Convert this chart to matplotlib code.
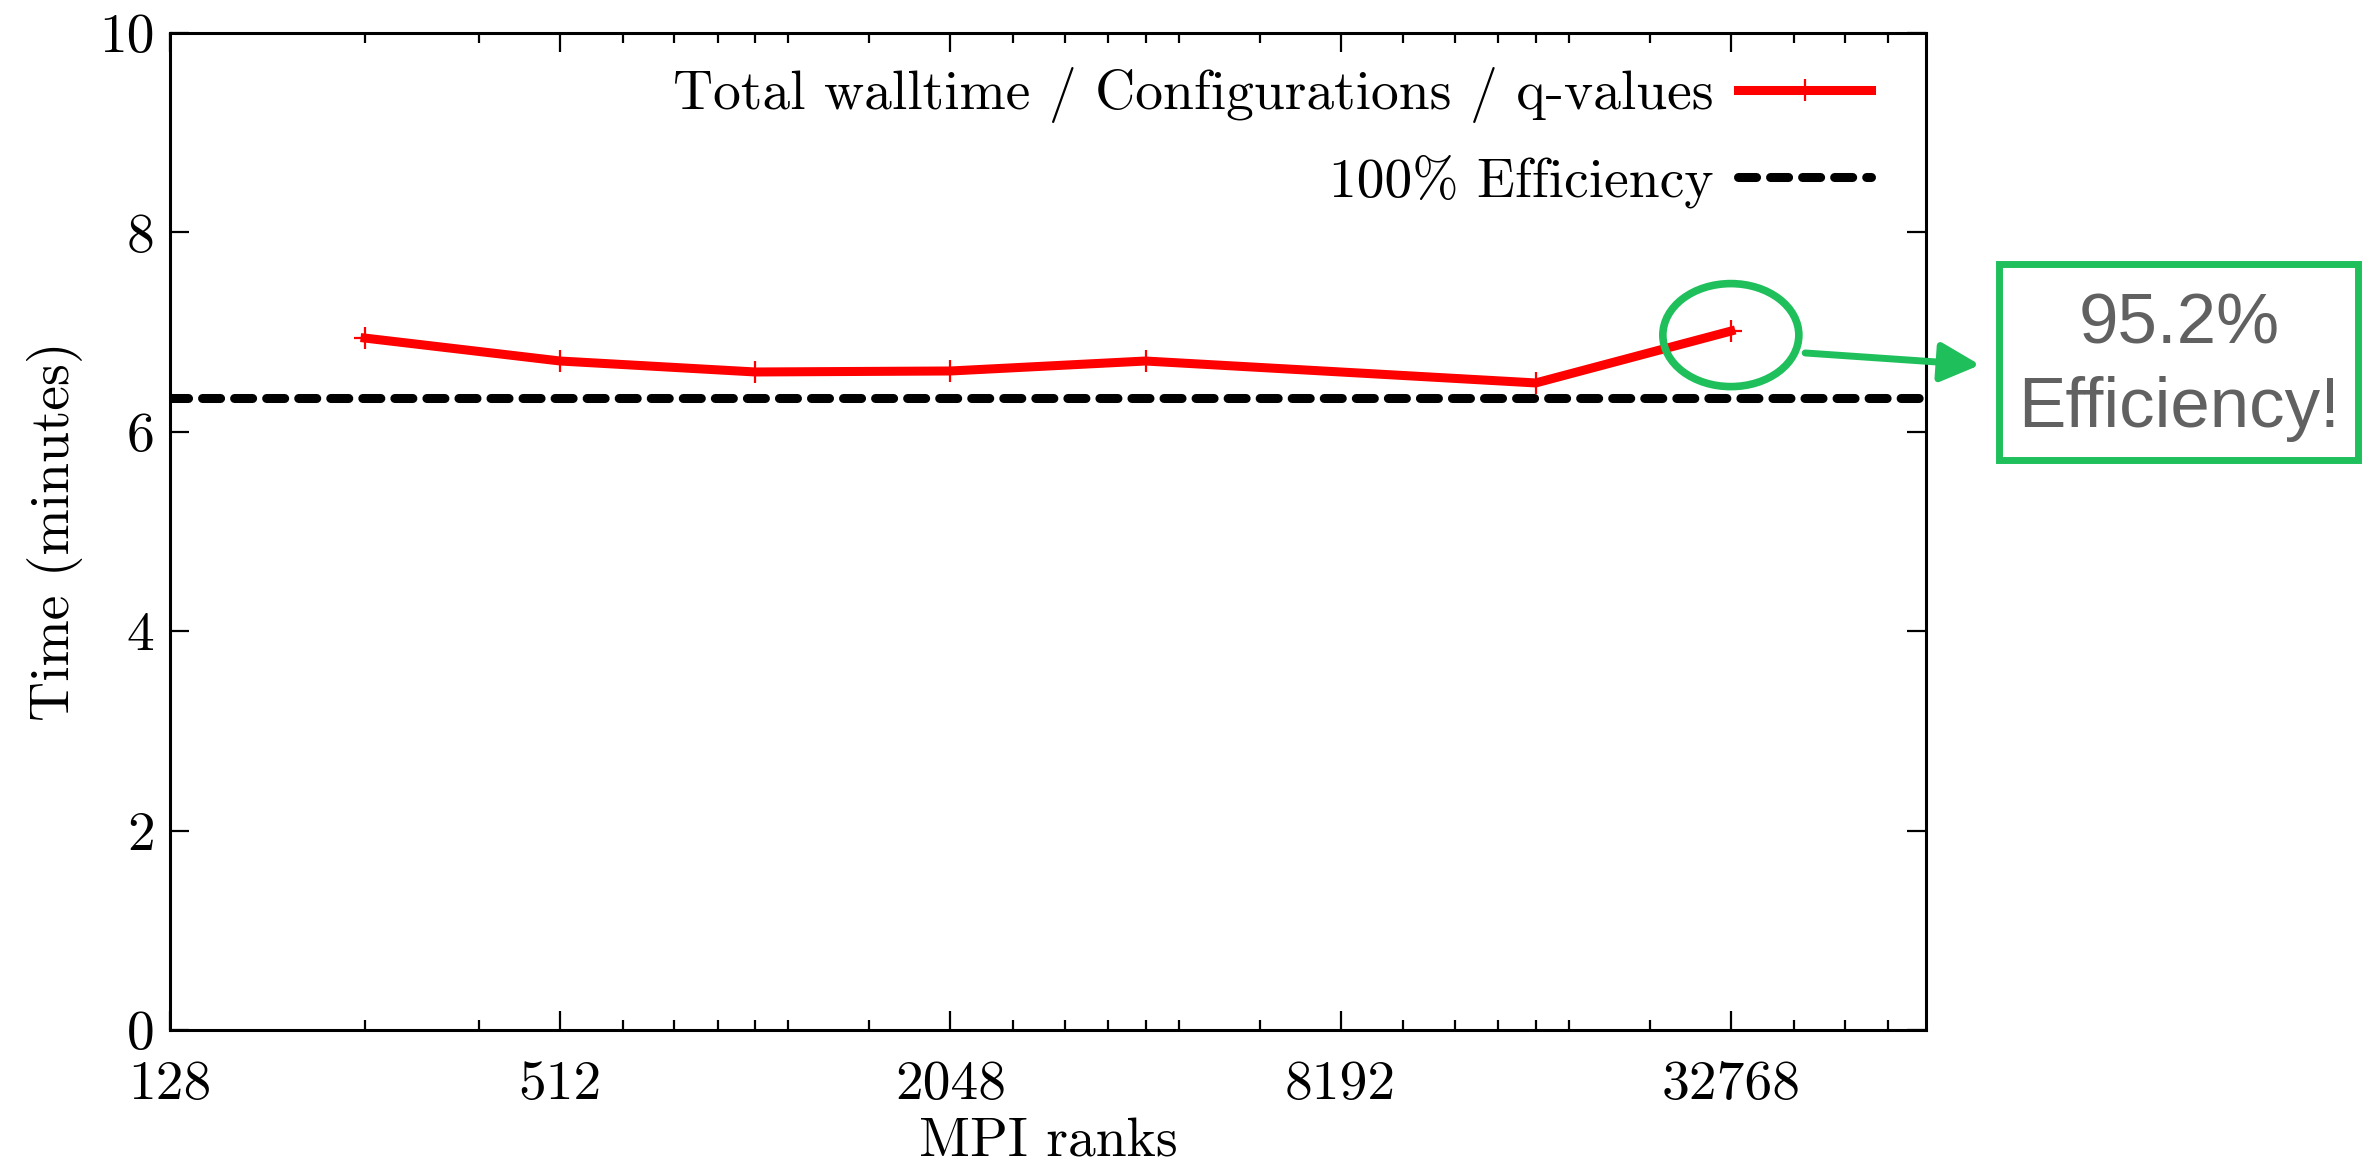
import matplotlib
matplotlib.use("Agg")
import matplotlib.pyplot as plt
from matplotlib.patches import Ellipse, Rectangle, FancyArrowPatch
from matplotlib.ticker import FixedLocator, NullFormatter
from matplotlib.transforms import ScaledTranslation

# data
ranks = [256, 512, 1024, 2048, 4096, 16384, 32768]
walltime = [6.94, 6.71, 6.60, 6.61, 6.71, 6.49, 7.01]
ideal_time = 6.34

x_major = [128, 512, 2048, 8192, 32768]
x_major_labels = ["128", "512", "2048", "8192", "32768"]
x_minor = [256, 384,
           640, 768, 896, 1024, 1152, 1536,
           2560, 3072, 3584, 4096, 4608, 6144,
           10240, 12288, 14336, 16384, 18432, 24576,
           40960, 49152, 57344]
y_major = [0, 2, 4, 6, 8, 10]
y_major_labels = ["0", "2", "4", "6", "8", "10"]

GREEN = "#1fc05c"
FS = 40

plt.rcParams["font.family"] = "cmr10"
plt.rcParams["mathtext.fontset"] = "cm"
plt.rcParams["axes.formatter.use_mathtext"] = True

fig = plt.figure(figsize=(23.64, 11.63), dpi=100)
ax = fig.add_axes([0.0719, 0.1144, 0.7428, 0.8572])

ax.plot(ranks, walltime, color="red", lw=6.5, marker="+", ms=16, mew=1.6,
        label="Total walltime / Configurations / q-values", zorder=3)
ax.axhline(ideal_time, color="black", lw=6.5, dashes=(2.0, 1.55),
           dash_capstyle="round", label="100% Efficiency", zorder=2)

ax.set_xscale("log", base=2)
ax.set_xlim(128, 65536)
ax.set_ylim(0, 10)
ax.set_xticks(x_major)
ax.set_xticklabels(x_major_labels)
ax.xaxis.set_minor_locator(FixedLocator(x_minor))
ax.xaxis.set_minor_formatter(NullFormatter())
ax.set_yticks(y_major)
ax.set_yticklabels(y_major_labels)

ax.tick_params(which="both", direction="in", top=True, right=True,
               labelsize=FS, width=1.6)
ax.tick_params(axis="x", which="major", length=13.5, pad=22)
ax.tick_params(axis="y", which="major", length=13.5, pad=11)
ax.tick_params(which="minor", length=7)
for s in ax.spines.values():
    s.set_linewidth(2.2)

ax.set_xlabel("MPI ranks", fontsize=FS, labelpad=6)
ax.set_ylabel("Time (minutes)", fontsize=FS, labelpad=12)

ax.legend(loc="upper right", bbox_to_anchor=(0.9886, 1.0), frameon=False,
          markerfirst=False, fontsize=FS, handlelength=2.4, handletextpad=0.45,
          labelspacing=0.55, borderaxespad=0.22, numpoints=1)

# green annotation
circ_tr = fig.dpi_scale_trans + ScaledTranslation(ranks[-1], 6.97, ax.transData)
ax.add_patch(Ellipse((0, 0), 1.36, 1.03, transform=circ_tr, fill=False,
                     edgecolor=GREEN, lw=5.5, clip_on=False, zorder=4))

arrow = FancyArrowPatch((0.7636, 0.6965), (0.8376, 0.6862),
                        transform=fig.transFigure,
                        arrowstyle="-|>,head_length=24,head_width=12",
                        mutation_scale=1, color=GREEN, lw=5, shrinkA=0, shrinkB=0)
fig.add_artist(arrow)

fig.add_artist(Rectangle((0.8456, 0.6045), 0.1519, 0.1685,
                         transform=fig.transFigure, fill=False,
                         edgecolor=GREEN, lw=5))
fig.text(0.9217, 0.7197, "95.2%", ha="center", va="center", color="#616161",
         fontsize=51, family="Liberation Sans")
fig.text(0.9217, 0.6483, "Efficiency!", ha="center", va="center", color="#616161",
         fontsize=51, family="Liberation Sans")

fig.savefig("out.png", dpi=100)
